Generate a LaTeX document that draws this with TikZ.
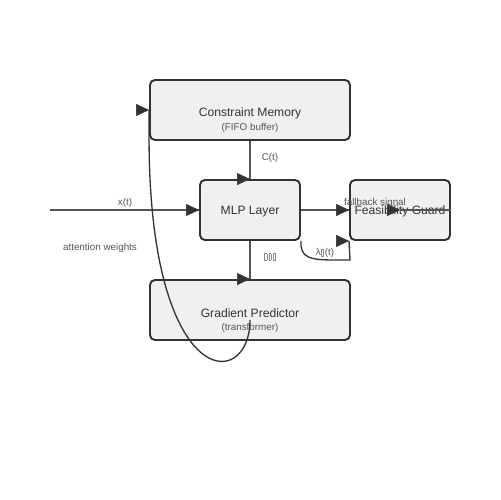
\documentclass[tikz,border=0pt]{standalone}
\usepackage{fontspec}
\setmainfont{Liberation Sans}
\usetikzlibrary{arrows.meta, positioning, calc}
\usepackage{xcolor}
\definecolor{cmFill}{HTML}{F0F0F0}
\definecolor{cmEdge}{HTML}{333333}
\definecolor{cmLine}{HTML}{555555}
\definecolor{cmLabel}{HTML}{555555}
\definecolor{cmTofu}{HTML}{8A8A8A}
\newcommand{\tofubox}{{\color{cmTofu}\fboxsep=0pt\fboxrule=0.25pt\fbox{\rule{0pt}{3.6pt}\hspace{1.2pt}}}\hspace{0.6pt}}

\begin{document}
\begin{tikzpicture}[
    x=0.02cm, y=-0.02cm,
    block/.style={
        rectangle,
        rounded corners=2.8pt,
        minimum height=1.2cm,
        inner sep=1pt,
        draw=cmEdge,
        fill=cmFill,
        line width=1.1pt,
        text=cmEdge,
        font=\fontsize{6.9}{8}\selectfont
    },
    title/.style={
        inner sep=0pt,
        text=cmEdge,
        font=\fontsize{6.9}{8}\selectfont
    },
    subtitle/.style={
        inner sep=0pt,
        text=cmLabel,
        font=\fontsize{5.6}{7}\selectfont
    },
    lbl/.style={
        inner sep=0pt,
        text=cmLabel,
        font=\fontsize{5.6}{7}\selectfont
    },
    link/.style={
        draw=cmLine,
        line width=0.85pt
    },
    curve/.style={
        draw=cmEdge,
        line width=0.75pt
    },
    headr/.style={
        -{Triangle[length=2.6mm,width=2.4mm]},
        draw=cmEdge,
        fill=cmEdge,
        line width=0.3pt
    }
]

% Canvas
\fill[white] (0,0) rectangle (500,500);
\useasboundingbox (0,0) rectangle (500,500);

% Blocks
\node[block, minimum width=4cm] (mem) at (250,110) {};
\node[title] (memtitle) at (250,113) {Constraint Memory};
\node[subtitle] (memsub) at (250,128) {(FIFO buffer)};

\node[block, minimum width=2cm, text height=4.9pt, text depth=0pt] (mlp) at (250,210) {MLP Layer};
\node[block, minimum width=2cm, text height=4.9pt, text depth=0pt] (guard) at (400,210) {Feasibility Guard};

\node[block, minimum width=4cm] (grad) at (250,310) {};
\node[title] (gradtitle) at (250,313) {Gradient Predictor};
\node[subtitle] (gradsub) at (250,328) {(transformer)};

% Connectors
\coordinate (xin) at (50,210);
\coordinate (fb) at (400,210);
\coordinate (gradout) at (250,320);

\draw[link] (mem.south) -- (mlp.north);
\draw[headr] ($(mlp.north)+(-13,0)$) -- (mlp.north);

\draw[link] (xin) -- (mlp.west);
\draw[headr] ($(mlp.west)+(-13,0)$) -- (mlp.west);

\draw[link] (mlp.east) -- (guard.west);
\draw[headr] ($(guard.west)+(-13,0)$) -- (guard.west);

\draw[link] (mlp.south) -- (grad.north);
\draw[headr] ($(grad.north)+(-13,0)$) -- (grad.north);

\draw[link] (guard.east) -- (fb);
\draw[headr] ($(fb)+(-13,0)$) -- (fb);

\draw[curve] (mlp.south east) .. controls (300,258) and (310,260) .. (335,260) -- (350,260) -- (guard.south west);
\draw[headr] ($(guard.south west)+(-13,0)$) -- (guard.south west);

\draw[curve] (gradout) .. controls (250,392) and (150,392) .. (mem.south west) -- (mem.west);
\draw[headr] ($(mem.west)+(-13,0)$) -- (mem.west);

% Labels
\node[lbl] (ctlbl) at (270,158) {C(t)};
\node[lbl] (xlbl) at (125,203) {x(t)};
\node[lbl] (fblbl) at (375,203) {fallback signal};
\node[lbl] (attlbl) at (100,248) {attention weights};
\node[lbl] (lamlbl) at (325,253) {λ\tofubox(t)};
\node[lbl] (gradlbl) at (270,257) {\tofubox\tofubox\tofubox};

\end{tikzpicture}
\end{document}
